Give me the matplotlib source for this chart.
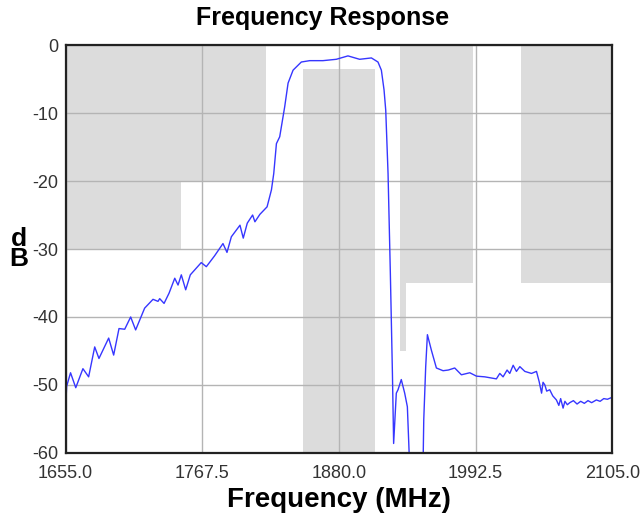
import matplotlib
matplotlib.use("Agg")
import matplotlib.pyplot as plt

plt.rcParams['font.family'] = ['Liberation Sans', 'DejaVu Sans']
plt.rcParams['axes.unicode_minus'] = False

freq = [1655.0, 1655.8, 1659.0, 1663.3, 1669.2, 1673.9, 1678.9, 1682.4, 1690.4, 1694.5,
        1698.9, 1703.6, 1708.5, 1712.6, 1720.0, 1726.9, 1731.0, 1732.4, 1736.0, 1740.1,
        1744.8, 1747.5, 1750.2, 1753.8, 1757.6, 1766.6, 1770.8, 1777.6, 1779.9, 1784.5,
        1787.8, 1791.4, 1798.5, 1801.2, 1804.5, 1808.9, 1810.8, 1814.9, 1820.8, 1824.4,
        1826.3, 1828.5, 1831.2, 1835.3, 1838.1, 1842.2, 1849.0, 1855.9, 1866.8, 1877.8,
        1887.4, 1897.0, 1906.7, 1912.1, 1914.9, 1917.1, 1918.5, 1920.4, 1922.3, 1924.0,
        1925.0, 1927.2, 1928.6, 1931.3, 1934.1, 1936.3, 1938.2, 1949.2, 1949.8, 1951.4,
        1952.8, 1956.1, 1960.2, 1965.7, 1970.0, 1975.3, 1980.8, 1987.7, 1993.2, 2000.0,
        2009.6, 2012.4, 2015.1, 2018.4, 2020.6, 2023.4, 2026.1, 2028.9, 2033.0, 2038.5,
        2042.6, 2044.8, 2046.8, 2048.0, 2049.5, 2051.0, 2053.5, 2056.0, 2059.0, 2061.0,
        2062.5, 2064.5, 2066.0, 2068.0, 2070.0, 2073.0, 2076.0, 2079.0, 2082.0, 2085.0,
        2088.0, 2091.9, 2095.0, 2098.0, 2101.0, 2105.0]
gain = [-53.2, -50.2, -48.2, -50.4, -47.6, -48.8, -44.4, -46.1, -43.1, -45.6,
        -41.7, -41.8, -40.0, -41.9, -38.7, -37.4, -37.7, -37.3, -38.0, -36.5,
        -34.3, -35.3, -33.8, -36.0, -33.8, -32.0, -32.6, -31.0, -30.4, -29.2,
        -30.5, -28.2, -26.5, -28.4, -26.2, -25.0, -26.0, -24.9, -23.8, -21.3,
        -18.9, -14.5, -13.5, -9.1, -5.6, -3.7, -2.5, -2.3, -2.3, -2.1,
        -1.6, -2.1, -1.9, -2.5, -3.7, -6.6, -9.6, -18.9, -33.6, -48.3,
        -58.6, -51.2, -50.7, -49.2, -51.2, -53.2, -62.0, -62.0, -55.1, -47.3,
        -42.6, -44.9, -47.5, -47.9, -47.8, -47.5, -48.5, -48.2, -48.7, -48.8,
        -49.1, -48.3, -48.8, -47.8, -48.3, -47.1, -48.0, -47.3, -48.0, -48.3,
        -48.0, -49.5, -51.2, -49.6, -50.0, -50.9, -50.7, -51.6, -52.2, -53.0,
        -52.0, -53.4, -52.4, -52.9, -52.6, -52.3, -52.8, -52.4, -52.7, -52.3,
        -52.6, -52.2, -52.4, -52.0, -52.1, -51.8]

# spec mask boxes: start, stop, upper dB, lower dB
mask_start = [1655, 1655, 1850, 1930, 1930, 2030]
mask_stop = [1750, 1820, 1910, 1990, 1935, 2105]
mask_top = [0, 0, -3.5, 0, -35, 0]
mask_bottom = [-30, -20, -60, -35, -45, -35]

xticks = [1655.0, 1767.5, 1880.0, 1992.5, 2105.0]
yticks = [0, -10, -20, -30, -40, -50, -60]

fig = plt.figure(figsize=(6.42, 5.18), dpi=100)
ax = fig.add_axes([0.1023, 0.1255, 0.8514, 0.7876])

for x0, x1, y0, y1 in zip(mask_start, mask_stop, mask_top, mask_bottom):
    ax.fill_between([x0, x1], y0, y1, color='#dcdcdc', lw=0, zorder=1)

ax.plot(freq, gain, color='#3636ff', lw=1.0, zorder=3)

ax.set_xlim(1655, 2105)
ax.set_ylim(-60, 0)
ax.set_xticks(xticks)
ax.set_xticklabels([f"{t:.1f}" for t in xticks])
ax.set_yticks(yticks)
ax.grid(True, color='#b4b4b4', lw=1.0, zorder=2)
ax.set_axisbelow(False)
ax.tick_params(length=0, labelsize=13, colors='#333333')
ax.tick_params(axis='x', pad=9)
ax.tick_params(axis='y', pad=5)
for s in ax.spines.values():
    s.set_linewidth(1.6)
    s.set_color('#222222')
    s.set_zorder(4)

fig.text(0.503, 0.965, "Frequency Response", fontsize=18, fontweight='bold',
         ha='center', va='center')
ax.set_xlabel("Frequency (MHz)", fontsize=20, fontweight='bold', labelpad=3)
fig.text(0.029, 0.52, "d\nB", fontsize=19, fontweight='bold', ha='center', va='center',
         linespacing=0.8)

fig.savefig("out.png", dpi=100)
